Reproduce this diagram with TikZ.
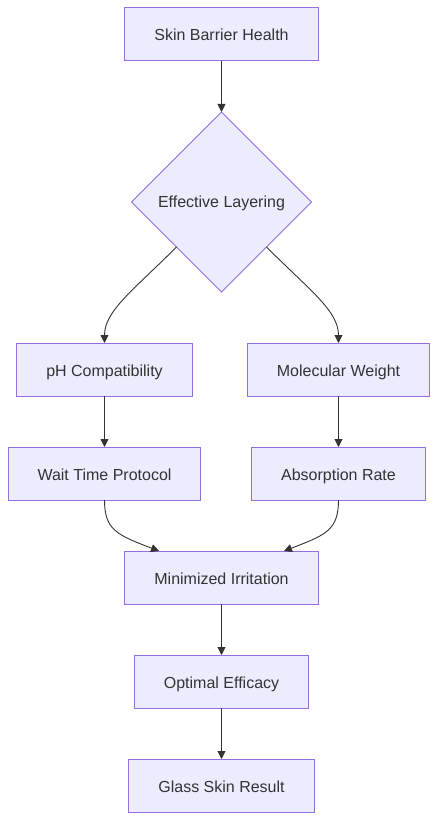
\documentclass[tikz,border=0pt]{standalone}
\usepackage{fontspec}
\setmainfont{Liberation Sans}
\usepackage{tikz}
\usetikzlibrary{shapes.geometric,arrows.meta,positioning}
\definecolor{nodefill}{HTML}{ECECFF}
\definecolor{nodeline}{HTML}{9370DB}
\definecolor{ink}{HTML}{333333}

\begin{document}
\begin{tikzpicture}[x=1pt,y=-1pt,node distance=51pt,
  font=\fontsize{16}{19}\selectfont,text=ink,
  box/.style={draw=nodeline,fill=nodefill,line width=1pt,minimum height=53pt,
              inner xsep=29.5pt,inner ysep=0pt,outer sep=0pt,
              text height=13pt,text depth=0pt},
  choice/.style={diamond,draw=nodeline,fill=nodefill,line width=1pt,
              minimum width=180pt,minimum height=180pt,inner sep=0pt,outer sep=0pt,
              text height=12pt,text depth=1.4pt},
  ar/.style={-{Triangle[length=8pt,width=8pt]},draw=ink,line width=0.9pt}]
\useasboundingbox (0,0) rectangle (439,821);
\node[box] (skin) at (221.5,34.5) {Skin Barrier Health};
\node[choice,below=of skin] (layer) {Effective Layering};
\node[box,below=of layer,xshift=-117pt] (ph) {pH Compatibility};
\node[box,below=of layer,xshift=117pt] (mw) {Molecular Weight};
\node[box,below=of ph] (wait) {Wait Time Protocol};
\node[box,below=of mw] (absorb) {Absorption Rate};
\coordinate (join) at (layer |- wait.south);
\node[box,below=of join] (irrit) {Minimized Irritation};
\node[box,below=of irrit] (effic) {Optimal Efficacy};
\node[box,below=of effic] (glass) {Glass Skin Result};
\draw[ar] (skin) -- (layer);
\draw[ar] (layer.south west) .. controls +(-135:62pt) and +(90:32pt) .. (ph.north);
\draw[ar] (layer.south east) .. controls +(-45:62pt) and +(90:32pt) .. (mw.north);
\foreach \x/\y in {ph/wait,mw/absorb,irrit/effic,effic/glass} \draw[ar](\x)--(\y);
\draw[ar] (wait.south) .. controls +(0,30) and +(-42,-16) .. (irrit.157);
\draw[ar] (absorb.south) .. controls +(0,30) and +(42,-16) .. (irrit.23);
\end{tikzpicture}
\end{document}
